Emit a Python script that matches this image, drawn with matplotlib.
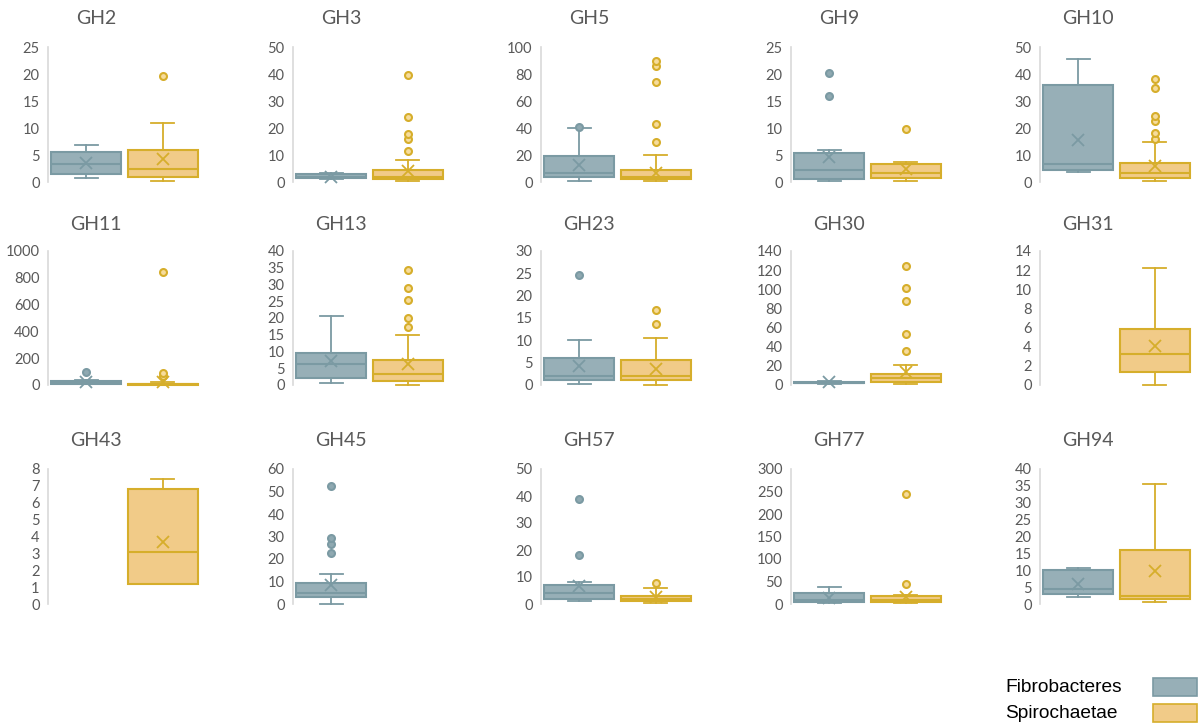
import matplotlib
matplotlib.use("Agg")
import matplotlib.pyplot as plt
from matplotlib.patches import Rectangle

# GH families, one small box chart each
panels = ["GH2", "GH3", "GH5", "GH9", "GH10",
          "GH11", "GH13", "GH23", "GH30", "GH31",
          "GH43", "GH45", "GH57", "GH77", "GH94"]
y_max = [25, 50, 100, 25, 50, 1000, 40, 30, 140, 14, 8, 60, 50, 300, 40]
y_step = [5, 10, 20, 5, 10, 200, 5, 5, 20, 2, 1, 10, 10, 50, 5]

# Fibrobacteres box stats (None = no data)
fib_low = [0.8, 1.0, 0.5, 0.1, 3.8, 5, 0.5, 0.3, 1.5, None, None, 0.2, 1.0, 2, 2.2]
fib_q1 = [1.5, 1.3, 4, 0.5, 4.3, 10, 2.0, 1.2, 2.0, None, None, 3.0, 2.0, 5, 3.0]
fib_med = [3.3, 2.0, 7, 2.3, 6.5, 20, 6.2, 2.0, 2.5, None, None, 5.0, 4.0, 10, 4.5]
fib_q3 = [5.6, 3.0, 19, 5.3, 35.8, 30, 9.5, 6.1, 3.5, None, None, 9.5, 7.0, 25, 10.0]
fib_high = [6.8, 3.2, 40, 5.9, 45.5, 35, 20.5, 10.0, 4.0, None, None, 13.5, 8.0, 38, 10.8]
fib_mean = [3.5, 2.0, 12.5, 4.7, 15.5, 20, 7.2, 4.2, 3.0, None, None, 8.5, 6.5, 14, 5.8]
fib_fliers = [[], [], [40.5], [15.9, 20.2], [], [100], [], [24.6], [], [], [],
              [22.5, 26.5, 29.5, 52.5], [18, 39], [], []]

# Spirochaetae box stats
spi_low = [0.2, 0.2, 0.5, 0.1, 0.5, 1, 0.0, 0.1, 1, 0.05, 1.2, None, 0.3, 2, 0.5]
spi_q1 = [0.9, 1.2, 2, 0.8, 1.5, 2, 1.3, 1.1, 3, 1.4, 1.2, None, 1.0, 4, 1.5]
spi_med = [2.5, 2.0, 4, 1.7, 3.5, 5, 3.2, 2.1, 7, 3.2, 3.1, None, 2.0, 10, 2.5]
spi_q3 = [5.9, 4.3, 9, 3.3, 7.0, 10, 7.6, 5.5, 12, 5.9, 6.8, None, 3.0, 17, 16.0]
spi_high = [11.0, 8.0, 20, 3.7, 15.0, 20, 14.8, 10.5, 21, 12.2, 7.4, None, 6.0, 20, 35.7]
spi_mean = [4.2, 4.0, 7, 2.5, 6.0, 25, 6.3, 3.5, 14, 4.1, 3.7, None, 2.5, 16, 9.8]
spi_fliers = [[19.7], [11.5, 15.8, 17.8, 24.2, 39.5], [30, 43, 74, 86, 90], [9.9],
              [16, 18, 22.5, 24.5, 35, 38], [70, 90, 845], [17.2, 20.1, 25.5, 29, 34.3],
              [13.7, 16.9], [35, 53, 88, 101, 124], [], [], [], [7.8], [45, 245], []]

series = ["Fibrobacteres", "Spirochaetae"]
fills = ["#97afb7", "#f1cb88"]
edges = ["#7b9aa3", "#d6ae2b"]
flier_faces = ["#8fa9b1", "#f6dc9c"]

W, H = 1200, 724
fig = plt.figure(figsize=(12, 7.24), dpi=100)
plt.rcParams["font.family"] = ["Lato", "DejaVu Sans"]

col_left = [48, 293, 541, 791, 1040]
row_top = [47, 251, 469]
row_bot = [182, 385, 604]
title_y = [18, 224, 441]
ax_w = 153

for i, name in enumerate(panels):
    r, c = divmod(i, 5)
    left = col_left[c]
    ax = fig.add_axes([left / W, 1 - row_bot[r] / H, ax_w / W,
                       (row_bot[r] - row_top[r]) / H])
    stats = [
        (fib_low, fib_q1, fib_med, fib_q3, fib_high, fib_mean, fib_fliers),
        (spi_low, spi_q1, spi_med, spi_q3, spi_high, spi_mean, spi_fliers),
    ]
    for k, (lo, q1, med, q3, hi, mn, fl) in enumerate(stats):
        if med[i] is None:
            continue
        st = [dict(whislo=lo[i], q1=q1[i], med=med[i], q3=q3[i], whishi=hi[i],
                   mean=mn[i], fliers=fl[i])]
        ax.bxp(st, positions=[k + 1], widths=0.92, capwidths=0.3,
               showmeans=True, patch_artist=True,
               boxprops=dict(facecolor=fills[k], edgecolor=edges[k], linewidth=1.5),
               medianprops=dict(color=edges[k], linewidth=1.5),
               whiskerprops=dict(color=edges[k], linewidth=1.3),
               capprops=dict(color=edges[k], linewidth=1.3),
               meanprops=dict(marker="x", markeredgecolor=edges[k], markersize=9,
                              markeredgewidth=1.3),
               flierprops=dict(marker="o", markerfacecolor=flier_faces[k],
                               markeredgecolor=edges[k], markersize=5,
                               markeredgewidth=1.5))
    ax.set_xlim(0.5, 2.5)
    ax.set_ylim(0, y_max[i])
    ax.set_yticks(range(0, y_max[i] + 1, y_step[i]))
    ax.set_xticks([])
    for s in ["top", "right", "bottom"]:
        ax.spines[s].set_visible(False)
    ax.spines["left"].set_color("#d9d9d9")
    ax.spines["left"].set_linewidth(1.2)
    ax.tick_params(axis="y", length=0, pad=6, labelsize=10.5, labelcolor="#595959")
    for a in ax.get_children():
        try:
            a.set_clip_on(False)
        except AttributeError:
            pass
    fig.text((left + 48) / W, 1 - title_y[r] / H, name, ha="center", va="center",
             fontsize=14, color="#595959")

# legend: left-aligned labels with colour keys on the right
leg_y = [687, 713]
for k, lab in enumerate(series):
    fig.text(1005 / W, 1 - leg_y[k] / H, lab, ha="left", va="center",
             fontsize=13.8, family="Liberation Sans", color="black")
    fig.add_artist(Rectangle((1153 / W, 1 - (leg_y[k] + 9) / H), 44 / W, 18 / H,
                             transform=fig.transFigure, facecolor=fills[k],
                             edgecolor=edges[k], linewidth=1.2, clip_on=False))

fig.savefig("out.png", dpi=100)
